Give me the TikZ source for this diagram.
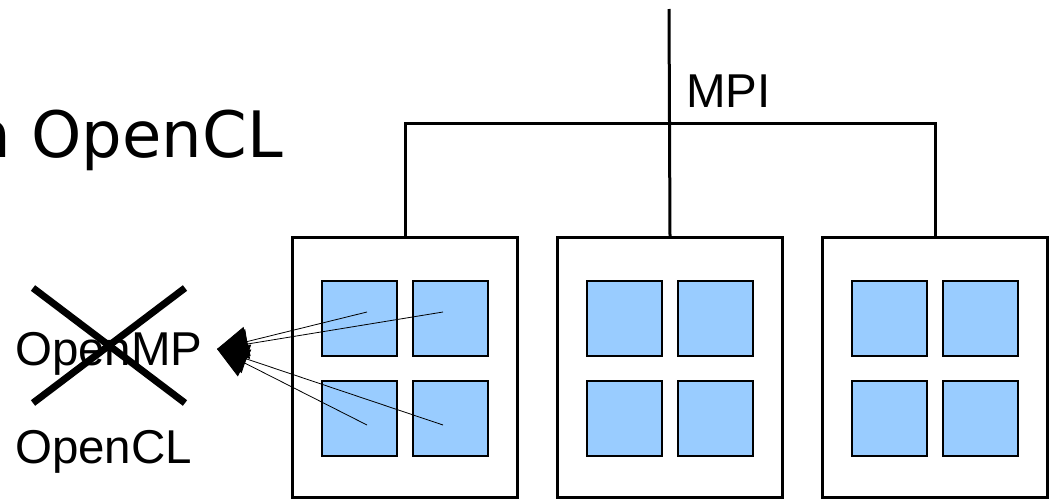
\documentclass[tikz,border=0pt]{standalone}
\usepackage{fontspec}
\setmainfont{Liberation Sans}
\newfontfamily\headfont{DejaVu Sans}
\usetikzlibrary{arrows.meta}
\definecolor{coreblue}{HTML}{99CCFF}

\begin{document}
\begin{tikzpicture}[x=1pt,y=-1pt,
    nodebox/.style={draw,line width=3pt,minimum width=225pt,minimum height=260pt,inner sep=0pt},
    core/.style={draw,fill=coreblue,line width=2pt,minimum size=75pt,inner sep=0pt},
    label/.style={inner sep=0pt,font=\fontsize{47.5}{50}\selectfont},
    link/.style={line width=3pt},
    toproc/.style={line width=0.8pt,-{Triangle[length=31pt,width=30pt]}}]

\useasboundingbox (0,0) rectangle (1050,501);

% Heading (cut at the left edge)
\node [inner sep=0pt,anchor=base east,font=\headfont\fontsize{64}{68}\selectfont]
    (title) at (283,157) {n OpenCL};

% Nodes with four cores each
\foreach \n/\x in {a/405,b/670,c/935}{
    \node [nodebox] (\n) at (\x,367.5) {};
    \node [core] (\n1) at (\x-45.5,318.5) {};
    \node [core] (\n2) at (\x+45.5,318.5) {};
    \node [core] (\n3) at (\x-45.5,418) {};
    \node [core] (\n4) at (\x+45.5,418) {};
}

% MPI tree
\coordinate (top) at (669,9);
\coordinate (bar) at (669,123);
\draw [link] (top) -- (b.north);
\draw [link] (a.north) -- (a.north |- bar) -- (c.north |- bar) -- (c.north);
\node [label,anchor=base west] (mpi) at (686,107) {MPI};

% OpenMP crossed out, OpenCL instead
\node [label,anchor=base west] (omp) at (15,365) {OpenMP};
\node [label,anchor=base west] (ocl) at (15,463) {OpenCL};
\draw [line width=7pt] (33,288) -- (185,403);
\draw [line width=7pt] (33,403) -- (185,288);

% Cores to the programming model
\coordinate (tip) at (217,349);
\draw [toproc] ([shift={(7.5,-6.5)}]a1.center) -- (tip);
\draw [toproc] ([shift={(-7.5,-6.5)}]a2.center) -- (tip);
\draw [toproc] ([shift={(7.5,7)}]a3.center) -- (tip);
\draw [toproc] ([shift={(-7.5,7)}]a4.center) -- (tip);

\end{tikzpicture}
\end{document}
